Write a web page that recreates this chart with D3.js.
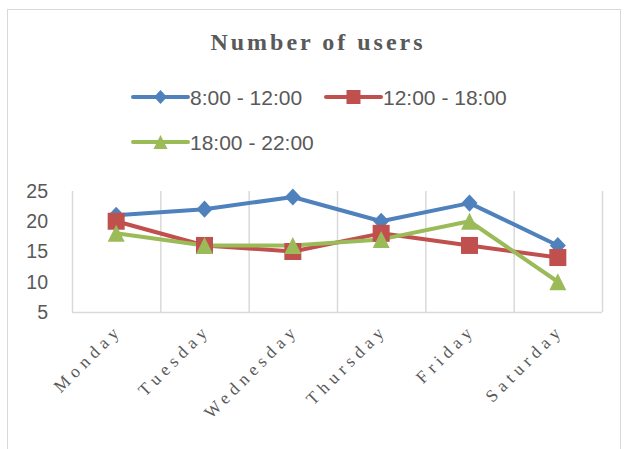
<!DOCTYPE html>
<html>
<head>
<meta charset="utf-8">
<script src="https://cdn.jsdelivr.net/npm/d3@7"></script>
<style>
  body { margin: 0; background: #fff; }
  svg { display: block; }
</style>
</head>
<body>
<svg></svg>
<script>
// chart data
let days = ["Monday", "Tuesday", "Wednesday", "Thursday", "Friday", "Saturday"]
let morning = [21, 22, 24, 20, 23, 16]     // 8:00 - 12:00
let afternoon = [20, 16, 15, 18, 16, 14]   // 12:00 - 18:00
let evening = [18, 16, 16, 17, 20, 10]     // 18:00 - 22:00
let seriesNames = ["8:00 - 12:00", "12:00 - 18:00", "18:00 - 22:00"]
let yTicks = [5, 10, 15, 20, 25]

let width = 633
let height = 449
let plot = {left: 72, right: 602, top: 191, bottom: 312}

let svg = d3.select('svg').attr('width', width).attr('height', height)

// outer chart frame
svg.append('rect')
    .attr('x', 7.5).attr('y', 9.5)
    .attr('width', 613).attr('height', 460)
    .attr('fill', 'none').attr('stroke', '#d9d9d9')

let xScale = d3.scaleBand().domain(days).range([plot.left, plot.right])
let yScale = d3.scaleLinear().domain([5, 25]).range([plot.bottom, plot.top])

// vertical gridlines at the category borders
let borders = days.map(d => xScale(d)).concat([plot.right])
svg.append('g').selectAll('line').data(borders).join('line')
    .attr('x1', d => d + 0.5).attr('x2', d => d + 0.5)
    .attr('y1', plot.top).attr('y2', plot.bottom)
    .attr('stroke', '#d9d9d9').attr('stroke-width', 1.5)

// category axis line
svg.append('line')
    .attr('x1', plot.left).attr('x2', plot.right)
    .attr('y1', plot.bottom + 0.5).attr('y2', plot.bottom + 0.5)
    .attr('stroke', '#d9d9d9').attr('stroke-width', 1.5)

// y axis labels
let yAxis = d3.axisLeft(yScale).tickValues(yTicks).tickSize(0).tickPadding(24)
let gy = svg.append('g').attr('transform', 'translate(' + plot.left + ',0)').call(yAxis)
gy.select('.domain').remove()
gy.selectAll('text')
    .attr('font-family', '"Liberation Sans", Arial, sans-serif')
    .attr('font-size', 19.5).attr('fill', '#595959')

// x axis labels, rotated
let xAxis = d3.axisBottom(xScale).tickSize(0).tickPadding(0)
let gx = svg.append('g').attr('transform', 'translate(0,' + plot.bottom + ')').call(xAxis)
gx.select('.domain').remove()
gx.selectAll('text')
    .attr('font-family', '"Liberation Serif", "Times New Roman", serif')
    .attr('font-size', 17.5).attr('fill', '#595959')
    .attr('letter-spacing', 5)
    .attr('text-anchor', 'end')
    .attr('dy', 0)
    .attr('transform', 'translate(7,19) rotate(-45)')

// near-square diamond like the office marker
let diamond = {
    draw(ctx, size) {
        let w = Math.sqrt(size) / 2, h = w * 1.07
        ctx.moveTo(0, -h); ctx.lineTo(w, 0); ctx.lineTo(0, h); ctx.lineTo(-w, 0); ctx.closePath()
    }
}
let triangle = {
    draw(ctx, size) {
        let s = Math.sqrt(size) / 2
        ctx.moveTo(0, -s); ctx.lineTo(s, s); ctx.lineTo(-s, s); ctx.closePath()
    }
}

let colors = ['#4f81bd', '#c0504d', '#9bbb59']
let shapes = [diamond, d3.symbolSquare, triangle]
let markerSizes = [256, 289, 289]
let allSeries = [morning, afternoon, evening]

let cx = d => xScale(d) + xScale.bandwidth() / 2
let line = d3.line().x((v, i) => cx(days[i])).y(v => yScale(v))

allSeries.forEach((values, s) => {
    svg.append('path')
        .datum(values)
        .attr('d', line)
        .attr('fill', 'none')
        .attr('stroke', colors[s])
        .attr('stroke-width', 4)
        .attr('stroke-linejoin', 'round')
        .attr('stroke-linecap', 'round')
})
allSeries.forEach((values, s) => {
    svg.append('g').selectAll('path').data(values).join('path')
        .attr('d', d3.symbol().type(shapes[s]).size(markerSizes[s]))
        .attr('transform', (v, i) => 'translate(' + cx(days[i]) + ',' + yScale(v) + ')')
        .attr('fill', colors[s])
})

// title
svg.append('text')
    .attr('x', 318).attr('y', 50)
    .attr('text-anchor', 'middle')
    .attr('font-family', '"Liberation Serif", "Times New Roman", serif')
    .attr('font-weight', 'bold').attr('font-size', 24)
    .attr('letter-spacing', 3)
    .attr('fill', '#595959')
    .text('Number of users')

// legend
let legendPos = [{x: 133, y: 97}, {x: 326, y: 97}, {x: 133, y: 142}]
let legendMarker = [169, 196, 196]
let legend = svg.append('g').selectAll('g').data(seriesNames).join('g')
    .attr('transform', (d, i) => 'translate(' + legendPos[i].x + ',' + legendPos[i].y + ')')
legend.append('line')
    .attr('x1', 0).attr('x2', 55).attr('y1', 0).attr('y2', 0)
    .attr('stroke', (d, i) => colors[i]).attr('stroke-width', 4)
    .attr('stroke-linecap', 'round')
legend.append('path')
    .attr('d', (d, i) => d3.symbol().type(shapes[i]).size(legendMarker[i])())
    .attr('transform', 'translate(27.5,0)')
    .attr('fill', (d, i) => colors[i])
legend.append('text')
    .attr('x', 57).attr('y', 7.5)
    .attr('font-family', '"Liberation Sans", Arial, sans-serif')
    .attr('font-size', 21).attr('fill', '#595959')
    .text(d => d)
</script>
</body>
</html>
